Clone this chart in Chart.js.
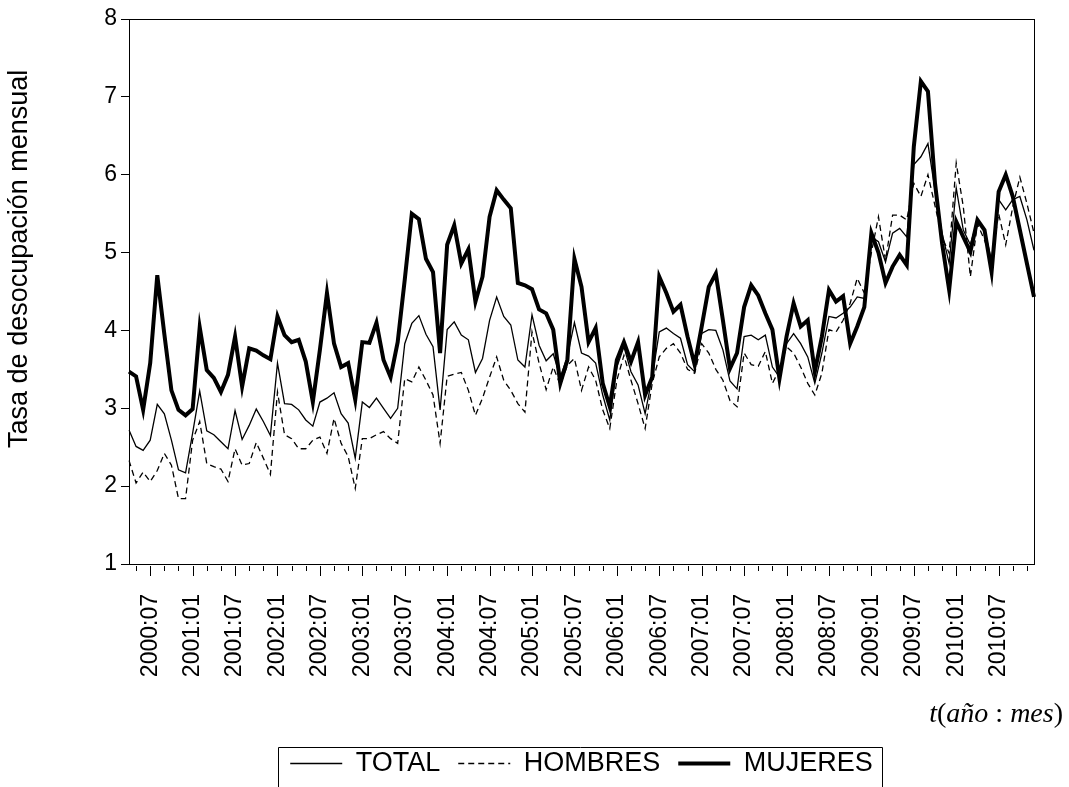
<!DOCTYPE html>
<html>
<head>
<meta charset="utf-8">
<title>Tasa de desocupación mensual</title>
<script src="https://cdn.jsdelivr.net/npm/chart.js@4.4.1/dist/chart.umd.min.js"></script>
<style>
    html, body { margin: 0; padding: 0; background: #fff; }
    #chart { display: block; }
</style>
</head>
<body>
<canvas id="chart" width="1069" height="787"></canvas>
<script>
"use strict";

/**----------------------------------------------------------------------
 * [Data: monthly series, 2000:04 .. 2010:12]
 *--------------------------------------------------------------*/
const startYear = 2000;
const startMonth = 4;

const yTicks = [1, 2, 3, 4, 5, 6, 7, 8];
const yTitle = 'Tasa de desocupación mensual';

const total = [
    2.72, 2.51, 2.46, 2.59, 3.05, 2.93, 2.59, 2.21, 2.17, 2.68, 3.22, 2.71,
    2.66, 2.57, 2.48, 2.97, 2.60, 2.78, 2.99, 2.83, 2.65, 3.58, 3.06, 3.05,
    2.98, 2.85, 2.77, 3.08, 3.13, 3.20, 2.93, 2.81, 2.36, 3.08, 3.01, 3.13,
    3.00, 2.87, 3.00, 3.83, 4.09, 4.19, 3.95, 3.79, 2.98, 4.01, 4.11, 3.94,
    3.88, 3.46, 3.64, 4.13, 4.43, 4.18, 4.07, 3.62, 3.53, 4.20, 3.81, 3.61,
    3.70, 3.40, 3.66, 4.10, 3.71, 3.67, 3.58, 3.17, 2.85, 3.53, 3.79, 3.47,
    3.30, 2.93, 3.40, 3.98, 4.03, 3.96, 3.90, 3.56, 3.47, 3.96, 4.01, 4.00,
    3.75, 3.35, 3.25, 3.92, 3.94, 3.88, 3.94, 3.53, 3.40, 3.83, 3.96, 3.83,
    3.66, 3.32, 3.71, 4.18, 4.16, 4.22, 4.30, 4.43, 4.41, 5.20, 5.14, 4.88,
    5.25, 5.31, 5.20, 6.13, 6.23, 6.40, 5.80, 5.25, 4.86, 5.83, 5.29, 5.10,
    5.42, 5.29, 4.90, 5.68, 5.55, 5.68, 5.72, 5.42, 5.03
];

const hombres = [
    2.33, 2.04, 2.18, 2.06, 2.20, 2.42, 2.27, 1.84, 1.84, 2.59, 2.83, 2.29,
    2.25, 2.22, 2.06, 2.48, 2.27, 2.29, 2.56, 2.36, 2.15, 3.21, 2.66, 2.61,
    2.48, 2.48, 2.59, 2.63, 2.42, 2.87, 2.55, 2.38, 1.97, 2.61, 2.61, 2.66,
    2.70, 2.61, 2.55, 3.38, 3.34, 3.53, 3.36, 3.17, 2.55, 3.41, 3.44, 3.46,
    3.23, 2.91, 3.13, 3.40, 3.66, 3.36, 3.23, 3.06, 2.95, 3.98, 3.58, 3.24,
    3.53, 3.30, 3.55, 3.64, 3.23, 3.53, 3.36, 2.98, 2.74, 3.36, 3.68, 3.36,
    3.06, 2.74, 3.32, 3.66, 3.77, 3.83, 3.71, 3.50, 3.45, 3.83, 3.71, 3.50,
    3.36, 3.10, 3.02, 3.71, 3.56, 3.54, 3.73, 3.32, 3.50, 3.79, 3.71, 3.53,
    3.32, 3.17, 3.45, 4.01, 3.98, 4.13, 4.35, 4.67, 4.48, 5.00, 5.46, 4.90,
    5.48, 5.48, 5.42, 5.89, 5.72, 6.00, 5.60, 5.20, 4.99, 6.15, 5.59, 4.69,
    5.37, 5.16, 4.90, 5.50, 5.10, 5.59, 5.97, 5.63, 5.25
];

const mujeres = [
    3.47, 3.41, 2.98, 3.58, 4.71, 3.95, 3.23, 2.98, 2.91, 2.99, 4.04, 3.49,
    3.39, 3.21, 3.43, 3.92, 3.28, 3.77, 3.74, 3.68, 3.63, 4.18, 3.94, 3.85,
    3.88, 3.60, 3.08, 3.75, 4.48, 3.83, 3.53, 3.58, 3.11, 3.85, 3.84, 4.10,
    3.62, 3.40, 3.85, 4.65, 5.50, 5.43, 4.92, 4.75, 3.71, 5.10, 5.35, 4.86,
    5.04, 4.37, 4.69, 5.46, 5.80, 5.68, 5.57, 4.61, 4.58, 4.53, 4.27, 4.22,
    4.01, 3.32, 3.62, 4.92, 4.56, 3.85, 4.03, 3.32, 3.02, 3.62, 3.85, 3.60,
    3.85, 3.17, 3.40, 4.69, 4.48, 4.24, 4.33, 3.92, 3.56, 4.05, 4.56, 4.73,
    4.13, 3.51, 3.71, 4.30, 4.58, 4.45, 4.22, 4.01, 3.38, 3.92, 4.35, 4.05,
    4.13, 3.47, 3.92, 4.52, 4.37, 4.44, 3.83, 4.05, 4.30, 5.25, 5.00, 4.61,
    4.82, 4.97, 4.84, 6.36, 7.20, 7.07, 5.89, 5.12, 4.52, 5.40, 5.20, 5.01,
    5.42, 5.29, 4.75, 5.78, 6.00, 5.72, 5.29, 4.86, 4.43
];

/**----------------------------------------------------------------------
 * [Month labels "yyyy:mm"]
 *--------------------------------------------------------------*/
const labels = total.map(function(v, i) {
    const m = startMonth - 1 + i;
    const year = startYear + Math.floor(m / 12);
    const month = (m % 12) + 1;
    return year + ':' + String(month).padStart(2, '0');
});

// every second month gets a tick, January and July get a label
const isTick = (i) => labels[i].slice(5) % 2 === 1;
const isMajor = (i) => ['01', '07'].includes(labels[i].slice(5));

const FONT = "'Liberation Sans', Arial, sans-serif";
const SERIF = "'Liberation Serif', 'Times New Roman', serif";

/**----------------------------------------------------------------------
 * [Frame, month ticks, y title, caption and legend box]
 *--------------------------------------------------------------*/
const framePlugin = {
    id: 'frame',
    afterDraw(chart) {
        const ctx = chart.ctx;
        const a = chart.chartArea;
        const x = chart.scales.x;

        ctx.save();
        ctx.strokeStyle = '#000';
        ctx.fillStyle = '#000';
        ctx.lineWidth = 1;

        ctx.strokeRect(Math.round(a.left) + 0.5, Math.round(a.top) + 0.5,
            Math.round(a.right - a.left), Math.round(a.bottom - a.top));

        ctx.beginPath();
        labels.forEach(function(lab, i) {
            if (!isTick(i)) return;
            const px = Math.round(x.getPixelForValue(i)) + 0.5;
            const len = isMajor(i) ? 10 : 5;
            ctx.moveTo(px, a.bottom + 2);
            ctx.lineTo(px, a.bottom + 2 + len);
        });
        ctx.stroke();

        // y axis title, a little above the middle of the axis
        ctx.save();
        ctx.translate(20, a.top + (a.bottom - a.top) * 0.44);
        ctx.rotate(-Math.PI / 2);
        ctx.font = '27px ' + FONT;
        ctx.textAlign = 'center';
        ctx.textBaseline = 'middle';
        ctx.fillText(yTitle, 0, 0);
        ctx.restore();

        // caption, math style: variables italic, punctuation upright
        const parts = [
            ['t', 'italic'], ['(', 'normal'], ['año', 'italic'],
            [' : ', 'normal'], ['mes', 'italic'], [')', 'normal']
        ];
        const size = 28;
        let w = 0;
        parts.forEach(function(p) {
            ctx.font = p[1] + ' ' + size + 'px ' + SERIF;
            w += ctx.measureText(p[0]).width;
        });
        let cx = a.right + 29 - w;
        const cy = a.bottom + 158;
        ctx.textBaseline = 'alphabetic';
        ctx.textAlign = 'left';
        parts.forEach(function(p) {
            ctx.font = p[1] + ' ' + size + 'px ' + SERIF;
            ctx.fillText(p[0], cx, cy);
            cx += ctx.measureText(p[0]).width;
        });

        // legend box, open at the bottom edge of the picture
        const boxes = chart.legend.legendHitBoxes;
        if (boxes && boxes.length) {
            const first = boxes[0];
            const last = boxes[boxes.length - 1];
            const l = Math.round(first.left) - 12 + 0.5;
            const r = Math.round(last.left + last.width) + 9 + 0.5;
            const t = Math.round(first.top + first.height / 2) - 17 + 0.5;
            ctx.beginPath();
            ctx.moveTo(l, chart.height + 2);
            ctx.lineTo(l, t);
            ctx.lineTo(r, t);
            ctx.lineTo(r, chart.height + 2);
            ctx.stroke();
        }
        ctx.restore();
    }
};

/**----------------------------------------------------------------------
 * [Series styling]
 *--------------------------------------------------------------*/
const lineDataset = function(label, data, width, dash, order) {
    return {
        label: label,
        data: data,
        borderColor: '#000',
        backgroundColor: '#000',
        borderWidth: width,
        borderDash: dash,
        pointRadius: 0,
        pointHoverRadius: 0,
        tension: 0,
        fill: false,
        order: order
    };
};

new Chart(document.getElementById('chart').getContext('2d'), {
    type: 'line',
    data: {
        labels: labels,
        datasets: [
            lineDataset('TOTAL', total, 1.3, [], 2),
            lineDataset('HOMBRES', hombres, 1.3, [6, 4], 1),
            lineDataset('MUJERES', mujeres, 4, [], 0)
        ]
    },
    options: {
        responsive: false,
        animation: false,
        devicePixelRatio: 1,
        layout: {
            padding: { top: 19, right: 35, bottom: 0, left: 0 }
        },
        plugins: {
            tooltip: { enabled: false },
            legend: {
                display: true,
                position: 'bottom',
                fullSize: false,
                labels: {
                    color: '#000',
                    font: { family: FONT, size: 27 },
                    usePointStyle: true,
                    pointStyleWidth: 52,
                    pointStyle: 'line',
                    boxHeight: 27,
                    padding: 18,
                    sort: (a, b) => a.datasetIndex - b.datasetIndex,
                    generateLabels: function(chart) {
                        const items = Chart.defaults.plugins.legend.labels.generateLabels(chart);
                        items.forEach(function(item) {
                            const ds = chart.data.datasets[item.datasetIndex];
                            item.lineDash = ds.borderDash;
                            item.lineWidth = ds.borderWidth;
                        });
                        return items;
                    }
                }
            }
        },
        scales: {
            x: {
                type: 'category',
                offset: false,
                grid: { display: false },
                border: { display: true, color: '#000', width: 1 },
                ticks: {
                    autoSkip: false,
                    maxRotation: 90,
                    minRotation: 90,
                    padding: 22,
                    color: '#000',
                    font: { family: FONT, size: 23 },
                    callback: function(value, index) {
                        return isMajor(index) ? labels[index] : '';
                    }
                },
                afterFit: function(scale) {
                    scale.height = 168;
                    scale.paddingLeft = 0;
                    scale.paddingRight = 0;
                }
            },
            y: {
                min: yTicks[0],
                max: yTicks[yTicks.length - 1],
                afterBuildTicks: function(scale) {
                    scale.ticks = yTicks.map(v => ({ value: v }));
                },
                grid: {
                    drawOnChartArea: false,
                    drawTicks: true,
                    tickLength: 8,
                    color: '#000'
                },
                border: { display: true, color: '#000', width: 1 },
                ticks: {
                    color: '#000',
                    padding: 4,
                    font: { family: FONT, size: 23 }
                },
                afterFit: function(scale) {
                    scale.width = 129;
                }
            }
        }
    },
    plugins: [framePlugin]
});
</script>
</body>
</html>
